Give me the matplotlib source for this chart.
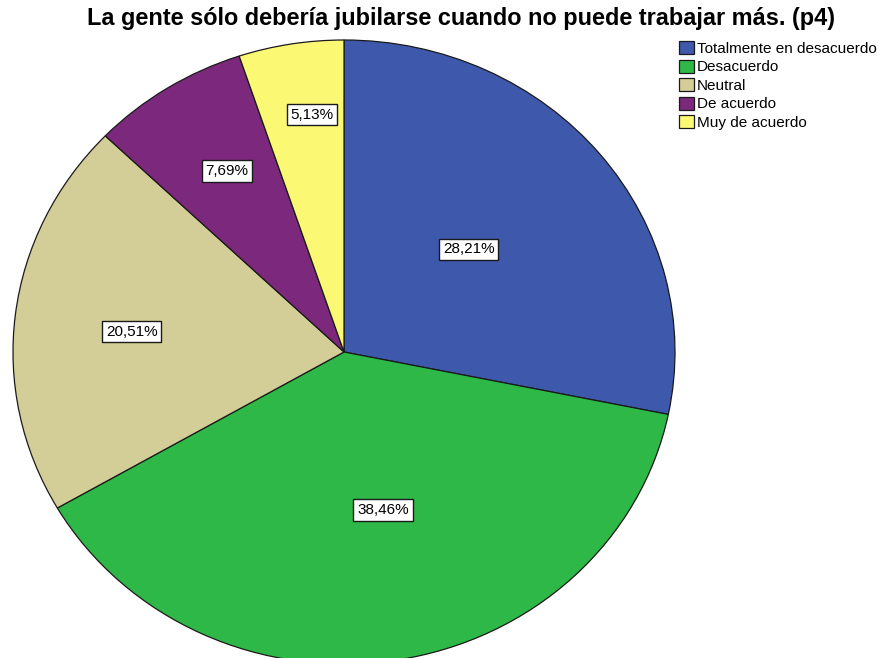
import matplotlib
matplotlib.use("Agg")
import matplotlib.pyplot as plt
import numpy as np

plt.rcParams['font.family'] = ['Liberation Sans', 'DejaVu Sans']

categorias = ['Totalmente en desacuerdo', 'Desacuerdo', 'Neutral', 'De acuerdo', 'Muy de acuerdo']
frecuencias = [11, 15, 8, 3, 2]
etiquetas = ['28,21%', '38,46%', '20,51%', '7,69%', '5,13%']
colores = ['#3E58AC', '#2EB848', '#D3CE97', '#7C287D', '#FBF873']

# posicion de cada etiqueta (distancia radial y ajuste de angulo, como la pone SPSS)
dist_etiqueta = [0.50, 0.52, 0.645, 0.68, 0.767]
ajuste_angulo = [1.9, 3.9, 1.1, -1.0, -2.0]

W, H = 884, 658
fig = plt.figure(figsize=(W / 100, H / 100), dpi=100)

# el pastel es una elipse: rx=331 px, ry=312 px, centro en (344, 352)
cx, cy, rx, ry = 344, 352, 331, 312
ax = fig.add_axes([(cx - rx) / W, (H - cy - ry) / H, 2 * rx / W, 2 * ry / H])

wedges, _ = ax.pie(frecuencias, colors=colores, startangle=90, counterclock=False,
                   wedgeprops=dict(edgecolor='#1a1a1a', linewidth=0.9))
ax.set_aspect('auto')
ax.set_xlim(-1, 1)
ax.set_ylim(-1, 1)
ax.axis('off')

for w, txt, d, da in zip(wedges, etiquetas, dist_etiqueta, ajuste_angulo):
    ang = np.deg2rad((w.theta1 + w.theta2) / 2 + da)
    ax.text(d * np.cos(ang), d * np.sin(ang), txt, ha='center', va='center', fontsize=11,
            bbox=dict(boxstyle='square,pad=0.25', facecolor='white', edgecolor='#1a1a1a', linewidth=1.0))

fig.text(461 / W, 1 - 19 / H, 'La gente sólo debería jubilarse cuando no puede trabajar más. (p4)',
         ha='center', va='center', fontsize=16.9, fontweight='bold')

fig.legend(wedges, categorias, loc='upper left', bbox_to_anchor=(679 / W, 1 - 41 / H),
           frameon=False, fontsize=11, handlelength=0.95, handleheight=0.95,
           handletextpad=0.2, labelspacing=0.24, borderpad=0, borderaxespad=0)

fig.savefig('out.png', dpi=100)
